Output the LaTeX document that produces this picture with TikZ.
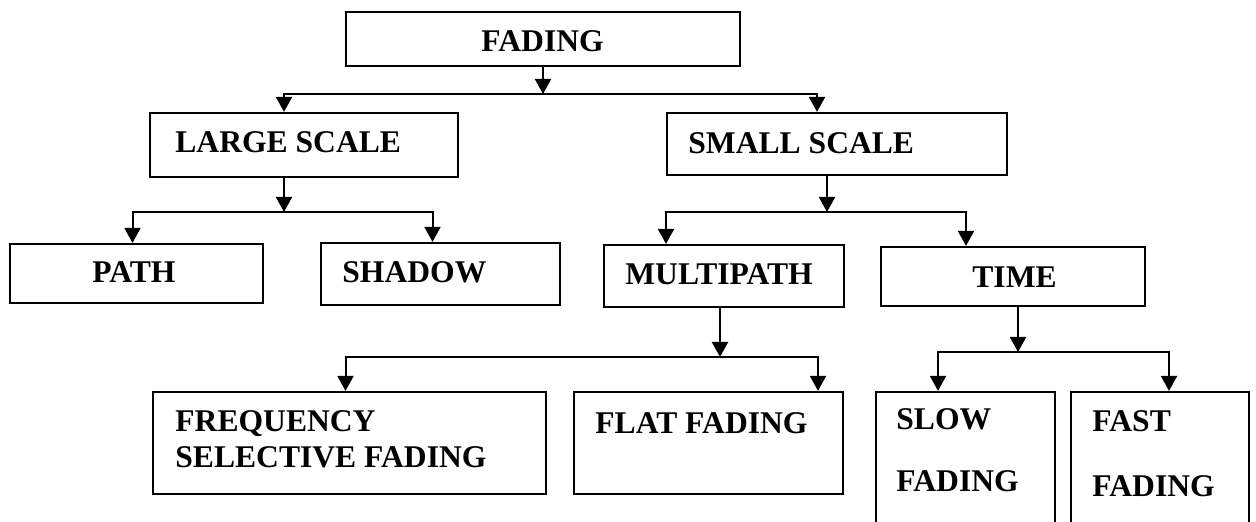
\documentclass[tikz,border=0pt]{standalone}
\usepackage{fontspec}
\setmainfont{Liberation Serif}
\usetikzlibrary{arrows.meta,fit}

\tikzset{
  caja/.style={draw, line width=1.1pt, inner sep=0pt},
  texto/.style={font=\bfseries\fontsize{15.8}{18}\selectfont, inner sep=0pt, anchor=base west},
  flecha/.style={line width=1pt, -{Triangle[length=7.5pt,width=8pt]}},
}

\begin{document}
\begin{tikzpicture}[x=0.5pt,y=-0.5pt]
    \useasboundingbox (0,0) rectangle (1256,522);
    \clip (0,0) rectangle (1256,522);

    % Dibuja las cajas
    \node[caja, fit={(346,12) (740,66)}] (fading) {};
    \node[caja, fit={(150,113) (458,177)}] (lscale) {};
    \node[caja, fit={(667,113) (1007,175)}] (sscale) {};
    \node[caja, fit={(10,244) (263,303)}] (path) {};
    \node[caja, fit={(321,243) (560,305)}] (shadow) {};
    \node[caja, fit={(604,245) (844,307)}] (multi) {};
    \node[caja, fit={(881,247) (1145,306)}] (time) {};
    \node[caja, fit={(153,392) (546,494)}] (freq) {};
    \node[caja, fit={(574,392) (843,494)}] (flat) {};
    \node[caja, fit={(876,392) (1055,560)}] (slow) {};
    \node[caja, fit={(1071,392) (1249,560)}] (fast) {};

    % Textos de las cajas
    \node[texto] (t-fading) at (481,52) {FADING};
    \node[texto] (t-lscale) at (175,153) {LARGE SCALE};
    \node[texto] (t-sscale) at (688,154) {SMALL SCALE};
    \node[texto] (t-path) at (92,283) {PATH};
    \node[texto] (t-shadow) at (342,283) {SHADOW};
    \node[texto] (t-multi) at (625,285) {MULTIPATH};
    \node[texto] (t-time) at (972,288) {TIME};
    \node[texto] (t-freq1) at (175,432) {FREQUENCY};
    \node[texto] (t-freq2) at (175,468) {SELECTIVE FADING};
    \node[texto] (t-flat) at (595,434) {FLAT FADING};
    \node[texto] (t-slow1) at (896,430) {SLOW};
    \node[texto] (t-slow2) at (896,492) {FADING};
    \node[texto] (t-fast1) at (1092,432) {FAST};
    \node[texto] (t-fast2) at (1092,497) {FADING};

    % Puntos de bifurcacion
    \coordinate (j0) at (543,94);
    \coordinate (j1) at (284,212);
    \coordinate (j2) at (827,212);
    \coordinate (j3) at (720,357);
    \coordinate (j4) at (1018,352);

    % Dibuja las flechas
    \draw[flecha] (fading.south) -- (j0);
    \draw[flecha] (j0) -| ([xshift=-10pt]lscale.north);
    \draw[flecha] (j0) -| ([xshift=-10pt]sscale.north);

    \draw[flecha] ([xshift=-10pt]lscale.south) -- (j1);
    \draw[flecha] (j1) -| ([xshift=-2pt]path.north);
    \draw[flecha] (j1) -| ([xshift=-4pt]shadow.north);

    \draw[flecha] ([xshift=-5pt]sscale.south) -- (j2);
    \draw[flecha] (j2) -| ([xshift=-29pt]multi.north);
    \draw[flecha] (j2) -| ([xshift=-23.5pt]time.north);

    \draw[flecha] ([xshift=-2pt]multi.south) -- (j3);
    \draw[flecha] (j3) -| ([xshift=-2pt]freq.north);
    \draw[flecha] (j3) -| ([xshift=54.75pt]flat.north);

    \draw[flecha] ([xshift=2.5pt]time.south) -- (j4);
    \draw[flecha] (j4) -| ([xshift=-13.75pt]slow.north);
    \draw[flecha] (j4) -| ([xshift=4.5pt]fast.north);
\end{tikzpicture}
\end{document}
